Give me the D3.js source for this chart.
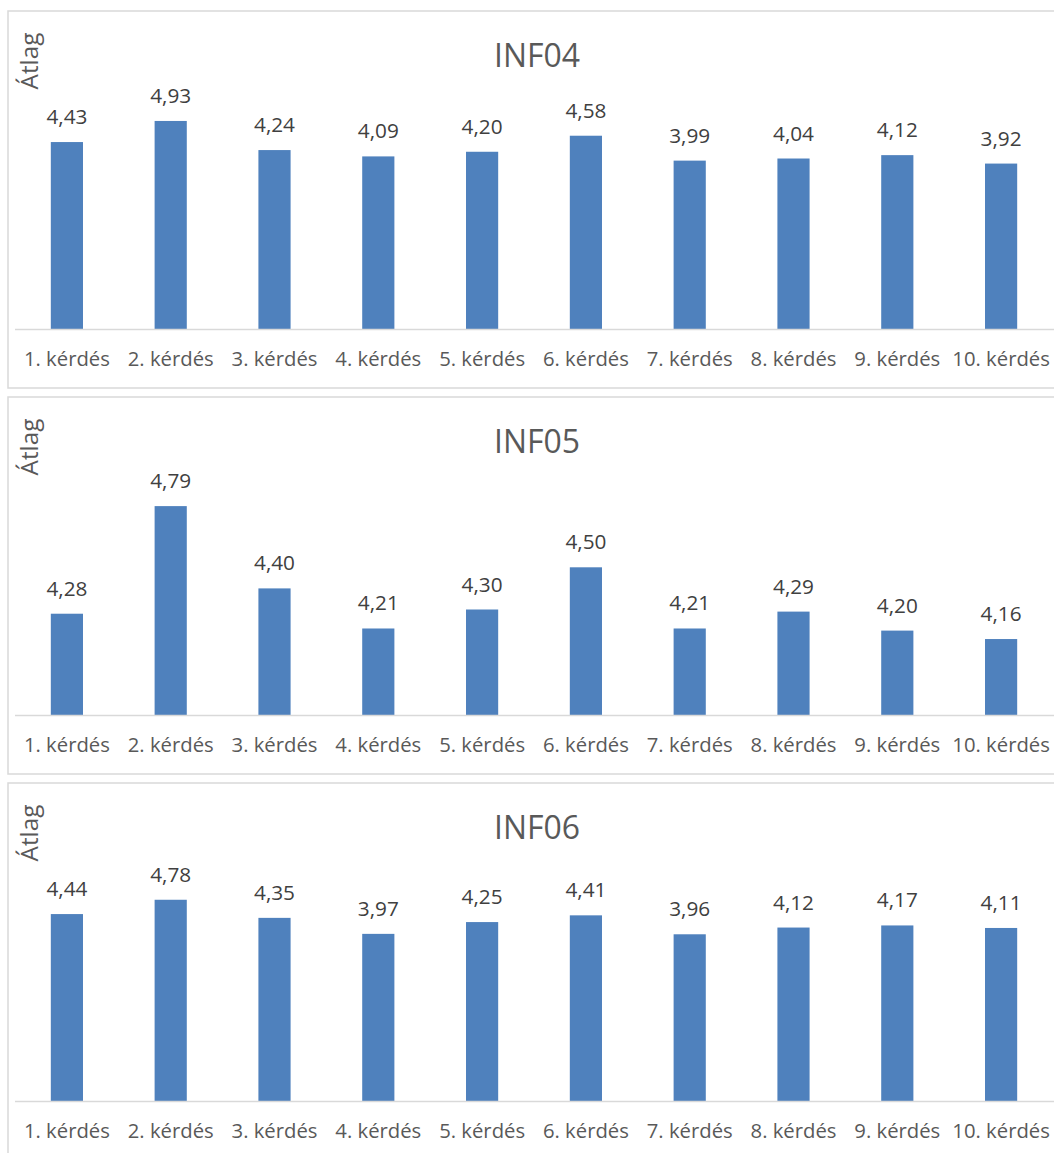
<!DOCTYPE html>
<html>
<head>
<meta charset="utf-8">
<script src="https://cdn.jsdelivr.net/npm/d3@7"></script>
<style>
  html, body { margin: 0; padding: 0; background: #fff; }
  svg { display: block; }
  text { font-family: "Open Sans", "Noto Sans", sans-serif; }
</style>
</head>
<body>
<svg id="chart" width="1054" height="1153"></svg>
<script>
const categories = ["1. kérdés", "2. kérdés", "3. kérdés", "4. kérdés", "5. kérdés",
                    "6. kérdés", "7. kérdés", "8. kérdés", "9. kérdés", "10. kérdés"];
const titles = ["INF04", "INF05", "INF06"];
const inf04 = [4.43, 4.93, 4.24, 4.09, 4.20, 4.58, 3.99, 4.04, 4.12, 3.92];
const inf05 = [4.28, 4.79, 4.40, 4.21, 4.30, 4.50, 4.21, 4.29, 4.20, 4.16];
const inf06 = [4.44, 4.78, 4.35, 3.97, 4.25, 4.41, 3.96, 4.12, 4.17, 4.11];
const yDomains = [[0, 6], [3.8, 4.9], [0, 6]];
const yAxisTitle = "Átlag";

const series = [inf04, inf05, inf06];
const pxPerUnit = [42.2, 211, 42.1];

const svg = d3.select("#chart");
const locale = d3.formatLocale({decimal: ",", thousands: " ", grouping: [3], currency: ["", " Ft"]});
const fmt = locale.format(".2f");

// fit font sizes so text widths match the reference
function fitSize(str, targetWidth) {
  const t = svg.append("text").attr("font-size", 100).text(str);
  const w = t.node().getComputedTextLength();
  t.remove();
  return 100 * targetWidth / w;
}
const catSize = fitSize("1. kérdés", 86);
const valSize = fitSize("4,43", 41);
const titleSize = fitSize("INF04", 86);
const ylabSize = fitSize("Átlag", 57);

const panelStep = 386;
const panelTop0 = 11;

const x = d3.scaleBand().domain(categories).range([15, 1053]).paddingInner(0.69).paddingOuter(0.345);

series.forEach((vals, i) => {
  const top = panelTop0 + i * panelStep;
  const g = svg.append("g");
  const axisY = top + 318;
  const dom = yDomains[i];
  const y = d3.scaleLinear().domain(dom).range([axisY, axisY - (dom[1] - dom[0]) * pxPerUnit[i]]);

  g.append("rect")
    .attr("x", 8).attr("y", top)
    .attr("width", 1100).attr("height", 377)
    .attr("fill", "#fff")
    .attr("stroke", "#d9d9d9").attr("stroke-width", 1.5);

  g.append("text")
    .attr("x", 537).attr("y", top + 56)
    .attr("text-anchor", "middle")
    .attr("font-size", titleSize)
    .attr("fill", "#595959")
    .text(titles[i]);

  g.append("text")
    .attr("transform", `translate(38,${top + 50}) rotate(-90)`)
    .attr("text-anchor", "middle")
    .attr("font-size", ylabSize)
    .attr("fill", "#595959")
    .text(yAxisTitle);

  const data = categories.map((c, j) => ({c, v: vals[j]}));

  g.selectAll("rect.bar").data(data).join("rect")
    .attr("class", "bar")
    .attr("x", d => x(d.c))
    .attr("width", x.bandwidth())
    .attr("y", d => y(d.v))
    .attr("height", d => axisY - y(d.v))
    .attr("fill", "#4f81bd");

  g.selectAll("text.val").data(data).join("text")
    .attr("class", "val")
    .attr("x", d => x(d.c) + x.bandwidth() / 2)
    .attr("y", d => y(d.v) - 18)
    .attr("text-anchor", "middle")
    .attr("font-size", valSize)
    .attr("fill", "#404040")
    .text(d => fmt(d.v));

  const axis = d3.axisBottom(x).tickSize(0);
  const ax = g.append("g").attr("transform", `translate(0,${axisY})`).call(axis);
  ax.select(".domain").attr("stroke", "#d9d9d9").attr("stroke-width", 1.5)
    .attr("d", "M15,0.5H1054");
  ax.selectAll("text")
    .attr("y", 37).attr("dy", 0)
    .attr("font-size", catSize)
    .attr("fill", "#595959")
    .attr("font-family", "Open Sans, Noto Sans, sans-serif");
});
</script>
</body>
</html>
